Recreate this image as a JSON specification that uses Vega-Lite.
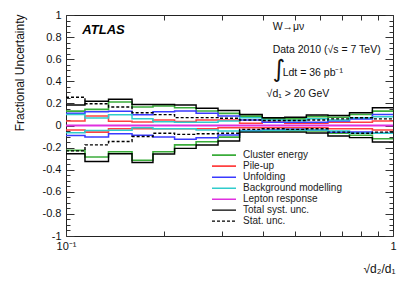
{
"$schema": "https://vega.github.io/schema/vega-lite/v6.json",
"width": 327, "height": 221,
"autosize": "none",
"padding": {"left": 66, "top": 15, "right": 22, "bottom": 45},
"config": {"view": {"stroke": "#222", "strokeWidth": 1}, "font": "Liberation Sans",
  "axis": {"domain": false, "grid": false, "tickColor": "#333", "labelColor": "#111", "labelFont": "Liberation Sans", "labelFontSize": 11, "titleFont": "Liberation Sans", "titleFontWeight": "normal", "titleColor": "#111"}},
"layer": [
{
"data": {"values": [
{"s":"Cluster energy","x":0.1,"u":0.13,"d":-0.225},{"s":"Cluster energy","x":0.1143,"u":0.146,"d":-0.285},{"s":"Cluster energy","x":0.1349,"u":0.213,"d":-0.237},{"s":"Cluster energy","x":0.1592,"u":0.167,"d":-0.315},{"s":"Cluster energy","x":0.1845,"u":0.176,"d":-0.237},{"s":"Cluster energy","x":0.2148,"u":0.161,"d":-0.175},{"s":"Cluster energy","x":0.25,"u":0.131,"d":-0.147},{"s":"Cluster energy","x":0.2917,"u":0.11,"d":-0.105},{"s":"Cluster energy","x":0.3396,"u":0.085,"d":-0.05},{"s":"Cluster energy","x":0.3981,"u":0.06,"d":-0.05},{"s":"Cluster energy","x":0.4667,"u":0.06,"d":-0.05},{"s":"Cluster energy","x":0.5433,"u":0.08,"d":-0.05},{"s":"Cluster energy","x":0.6324,"u":0.075,"d":-0.07},{"s":"Cluster energy","x":0.7362,"u":0.1,"d":-0.088},{"s":"Cluster energy","x":0.865,"u":0.13,"d":-0.12},{"s":"Cluster energy","x":1.0,"u":0.13,"d":-0.12},
{"s":"Pile-up","x":0.1,"u":0.04,"d":-0.04},{"s":"Pile-up","x":0.1143,"u":0.086,"d":-0.06},{"s":"Pile-up","x":0.1349,"u":0.038,"d":-0.029},{"s":"Pile-up","x":0.1592,"u":0.032,"d":-0.03},{"s":"Pile-up","x":0.1845,"u":0.05,"d":-0.03},{"s":"Pile-up","x":0.2148,"u":0.035,"d":-0.03},{"s":"Pile-up","x":0.25,"u":0.05,"d":-0.03},{"s":"Pile-up","x":0.2917,"u":0.05,"d":-0.02},{"s":"Pile-up","x":0.3396,"u":0.02,"d":-0.02},{"s":"Pile-up","x":0.3981,"u":0.03,"d":-0.02},{"s":"Pile-up","x":0.4667,"u":0.02,"d":-0.02},{"s":"Pile-up","x":0.5433,"u":0.02,"d":-0.02},{"s":"Pile-up","x":0.6324,"u":0.03,"d":-0.03},{"s":"Pile-up","x":0.7362,"u":0.03,"d":-0.03},{"s":"Pile-up","x":0.865,"u":0.04,"d":-0.04},{"s":"Pile-up","x":1.0,"u":0.04,"d":-0.04},
{"s":"Unfolding","x":0.1,"u":0.11,"d":-0.09},{"s":"Unfolding","x":0.1143,"u":0.125,"d":-0.104},{"s":"Unfolding","x":0.1349,"u":0.128,"d":-0.074},{"s":"Unfolding","x":0.1592,"u":0.098,"d":-0.089},{"s":"Unfolding","x":0.1845,"u":0.125,"d":-0.104},{"s":"Unfolding","x":0.2148,"u":0.131,"d":-0.125},{"s":"Unfolding","x":0.25,"u":0.11,"d":-0.11},{"s":"Unfolding","x":0.2917,"u":0.085,"d":-0.085},{"s":"Unfolding","x":0.3396,"u":0.05,"d":-0.045},{"s":"Unfolding","x":0.3981,"u":0.03,"d":-0.04},{"s":"Unfolding","x":0.4667,"u":0.03,"d":-0.035},{"s":"Unfolding","x":0.5433,"u":0.03,"d":-0.04},{"s":"Unfolding","x":0.6324,"u":0.04,"d":-0.06},{"s":"Unfolding","x":0.7362,"u":0.06,"d":-0.06},{"s":"Unfolding","x":0.865,"u":0.1,"d":-0.07},{"s":"Unfolding","x":1.0,"u":0.1,"d":-0.07},
{"s":"Background modelling","x":0.1,"u":0.1,"d":-0.065},{"s":"Background modelling","x":0.1143,"u":0.068,"d":-0.045},{"s":"Background modelling","x":0.1349,"u":0.098,"d":-0.044},{"s":"Background modelling","x":0.1592,"u":0.06,"d":-0.02},{"s":"Background modelling","x":0.1845,"u":0.035,"d":-0.03},{"s":"Background modelling","x":0.2148,"u":0.03,"d":-0.03},{"s":"Background modelling","x":0.25,"u":0.03,"d":-0.04},{"s":"Background modelling","x":0.2917,"u":0.04,"d":-0.05},{"s":"Background modelling","x":0.3396,"u":0.07,"d":-0.05},{"s":"Background modelling","x":0.3981,"u":0.05,"d":-0.045},{"s":"Background modelling","x":0.4667,"u":0.045,"d":-0.04},{"s":"Background modelling","x":0.5433,"u":0.06,"d":-0.04},{"s":"Background modelling","x":0.6324,"u":0.05,"d":-0.05},{"s":"Background modelling","x":0.7362,"u":0.07,"d":-0.07},{"s":"Background modelling","x":0.865,"u":0.08,"d":-0.07},{"s":"Background modelling","x":1.0,"u":0.08,"d":-0.07},
{"s":"Lepton response","x":0.1,"u":0.003,"d":-0.003},{"s":"Lepton response","x":0.1143,"u":0.003,"d":-0.003},{"s":"Lepton response","x":0.1349,"u":0.003,"d":-0.003},{"s":"Lepton response","x":0.1592,"u":0.003,"d":-0.003},{"s":"Lepton response","x":0.1845,"u":0.003,"d":-0.003},{"s":"Lepton response","x":0.2148,"u":0.003,"d":-0.003},{"s":"Lepton response","x":0.25,"u":0.003,"d":-0.003},{"s":"Lepton response","x":0.2917,"u":0.003,"d":-0.003},{"s":"Lepton response","x":0.3396,"u":0.003,"d":-0.003},{"s":"Lepton response","x":0.3981,"u":0.003,"d":-0.003},{"s":"Lepton response","x":0.4667,"u":0.003,"d":-0.003},{"s":"Lepton response","x":0.5433,"u":0.003,"d":-0.003},{"s":"Lepton response","x":0.6324,"u":0.003,"d":-0.003},{"s":"Lepton response","x":0.7362,"u":0.003,"d":-0.003},{"s":"Lepton response","x":0.865,"u":0.003,"d":-0.003},{"s":"Lepton response","x":1.0,"u":0.003,"d":-0.003},
{"s":"Total syst. unc.","x":0.1,"u":0.185,"d":-0.255},{"s":"Total syst. unc.","x":0.1143,"u":0.22,"d":-0.325},{"s":"Total syst. unc.","x":0.1349,"u":0.237,"d":-0.255},{"s":"Total syst. unc.","x":0.1592,"u":0.19,"d":-0.335},{"s":"Total syst. unc.","x":0.1845,"u":0.19,"d":-0.258},{"s":"Total syst. unc.","x":0.2148,"u":0.186,"d":-0.207},{"s":"Total syst. unc.","x":0.25,"u":0.156,"d":-0.176},{"s":"Total syst. unc.","x":0.2917,"u":0.135,"d":-0.14},{"s":"Total syst. unc.","x":0.3396,"u":0.1,"d":-0.06},{"s":"Total syst. unc.","x":0.3981,"u":0.07,"d":-0.06},{"s":"Total syst. unc.","x":0.4667,"u":0.075,"d":-0.06},{"s":"Total syst. unc.","x":0.5433,"u":0.095,"d":-0.068},{"s":"Total syst. unc.","x":0.6324,"u":0.09,"d":-0.095},{"s":"Total syst. unc.","x":0.7362,"u":0.116,"d":-0.11},{"s":"Total syst. unc.","x":0.865,"u":0.16,"d":-0.15},{"s":"Total syst. unc.","x":1.0,"u":0.16,"d":-0.15},
{"s":"Stat. unc.","x":0.1,"u":0.255,"d":-0.23},{"s":"Stat. unc.","x":0.1143,"u":0.197,"d":-0.175},{"s":"Stat. unc.","x":0.1349,"u":0.167,"d":-0.145},{"s":"Stat. unc.","x":0.1592,"u":0.116,"d":-0.1},{"s":"Stat. unc.","x":0.1845,"u":0.098,"d":-0.07},{"s":"Stat. unc.","x":0.2148,"u":0.071,"d":-0.08},{"s":"Stat. unc.","x":0.25,"u":0.071,"d":-0.075},{"s":"Stat. unc.","x":0.2917,"u":0.065,"d":-0.07},{"s":"Stat. unc.","x":0.3396,"u":0.05,"d":-0.035},{"s":"Stat. unc.","x":0.3981,"u":0.045,"d":-0.03},{"s":"Stat. unc.","x":0.4667,"u":0.045,"d":-0.035},{"s":"Stat. unc.","x":0.5433,"u":0.05,"d":-0.03},{"s":"Stat. unc.","x":0.6324,"u":0.06,"d":-0.06},{"s":"Stat. unc.","x":0.7362,"u":0.07,"d":-0.07},{"s":"Stat. unc.","x":0.865,"u":0.06,"d":-0.06},{"s":"Stat. unc.","x":1.0,"u":0.06,"d":-0.06}
]},
"transform": [{"fold": ["u", "d"], "as": ["sign", "value"]}],
"mark": {"type": "line", "interpolate": "step-after", "clip": true},
"encoding": {
  "x": {"field": "x", "type": "quantitative", "scale": {"type": "log", "domain": [0.1, 1]},
    "axis": {"orient": "bottom", "values": [0.1,0.2,0.3,0.4,0.5,0.6,0.7,0.8,0.9,1], "labelExpr": "datum.value == 0.1 ? '10⁻¹' : (datum.value == 1 ? '1' : '')", "tickSize": -5, "labelPadding": 9, "labelFontSize": 11, "labelFlush": false,
      "title": "√d₂/d₁", "titleFontSize": 12, "titleAlign": "right", "titleAnchor": "end", "titleX": 329, "titleY": 32, "titleBaseline": "middle"}},
  "y": {"field": "value", "type": "quantitative", "scale": {"domain": [-1, 1], "nice": false},
    "axis": {"orient": "left", "values": [-1,-0.95,-0.9,-0.85,-0.8,-0.75,-0.7,-0.65,-0.6,-0.55,-0.5,-0.45,-0.4,-0.35,-0.3,-0.25,-0.2,-0.15,-0.1,-0.05,0,0.05,0.1,0.15,0.2,0.25,0.3,0.35,0.4,0.45,0.5,0.55,0.6,0.65,0.7,0.75,0.8,0.85,0.9,0.95,1],
      "labelExpr": "abs(datum.value*5 - round(datum.value*5)) < 0.001 ? '' + datum.value : ''",
      "tickSize": {"condition": {"test": "abs(datum.value*5 - round(datum.value*5)) < 0.001", "value": -8}, "value": -4},
      "labelPadding": 13, "labelFlush": false,
      "title": "Fractional Uncertainty", "titleFontSize": 12, "titleAngle": -90, "titleAlign": "right", "titleAnchor": "end", "titleX": -47, "titleY": -1, "titleBaseline": "middle"}},
  "color": {"field": "s", "type": "nominal",
    "scale": {"domain": ["Cluster energy","Pile-up","Unfolding","Background modelling","Lepton response","Total syst. unc.","Stat. unc."],
      "range": ["#3aac3a","#ff4040","#3a3aff","#30cccc","#e030e0","#000000","#000000"]},
    "legend": {"title": null, "orient": "none", "legendX": 145, "legendY": 135, "symbolType": "stroke", "symbolSize": 576, "symbolStrokeWidth": 2, "clipHeight": 10.3, "labelFontSize": 10, "labelFont": "Liberation Sans", "labelColor": "#222", "rowPadding": 0, "labelOffset": 6, "padding": 0, "symbolOffset": 0}},
  "strokeDash": {"field": "s", "type": "nominal",
    "scale": {"domain": ["Cluster energy","Pile-up","Unfolding","Background modelling","Lepton response","Total syst. unc.","Stat. unc."],
      "range": [[1,0],[1,0],[1,0],[1,0],[1,0],[1,0],[3,2]]}},
  "strokeWidth": {"field": "s", "type": "nominal",
    "scale": {"domain": ["Cluster energy","Pile-up","Unfolding","Background modelling","Lepton response","Total syst. unc.","Stat. unc."],
      "range": [1.6,1.4,1.4,1.4,1.4,2.4,2]}},
  "detail": {"field": "sign", "type": "nominal"}
}
},
{
"data": {"values": [{"x": 0.1122, "y": 0.864, "t": "ATLAS"}]},
"mark": {"type": "text", "align": "left", "baseline": "middle", "fontSize": 13, "fontWeight": "bold", "fontStyle": "italic", "font": "Liberation Sans", "color": "#000"},
"encoding": {
  "x": {"field": "x", "type": "quantitative", "scale": {"type": "log", "domain": [0.1, 1]},
    "axis": {"orient": "top", "values": [0.1,0.2,0.3,0.4,0.5,0.6,0.7,0.8,0.9,1], "labels": false, "tickSize": -5, "title": null}},
  "y": {"field": "y", "type": "quantitative", "scale": {"domain": [-1, 1], "nice": false},
    "axis": {"orient": "right", "values": [-1,-0.95,-0.9,-0.85,-0.8,-0.75,-0.7,-0.65,-0.6,-0.55,-0.5,-0.45,-0.4,-0.35,-0.3,-0.25,-0.2,-0.15,-0.1,-0.05,0,0.05,0.1,0.15,0.2,0.25,0.3,0.35,0.4,0.45,0.5,0.55,0.6,0.65,0.7,0.75,0.8,0.85,0.9,0.95,1], "labels": false,
      "tickSize": {"condition": {"test": "abs(datum.value*5 - round(datum.value*5)) < 0.001", "value": -8}, "value": -4}, "title": null}},
  "text": {"field": "t"}
}
},
{
"data": {"values": [
  {"x": 0.4285, "y": 0.891, "t": "W→μν"},
  {"x": 0.4285, "y": 0.683, "t": "Data 2010 (√s = 7 TeV)"},
  {"x": 0.4597, "y": 0.475, "t": "Ldt = 36 pb⁻¹"},
  {"x": 0.4107, "y": 0.285, "t": "√d₁ > 20 GeV"}
]},
"mark": {"type": "text", "align": "left", "baseline": "middle", "fontSize": 10.5, "font": "Liberation Sans", "color": "#111"},
"encoding": {
  "x": {"field": "x", "type": "quantitative", "scale": {"type": "log", "domain": [0.1, 1]}, "axis": null},
  "y": {"field": "y", "type": "quantitative", "scale": {"domain": [-1, 1], "nice": false}, "axis": null},
  "text": {"field": "t"}
}
},
{
"data": {"values": [{"x": 0.4285, "y": 0.5, "t": "∫"}]},
"mark": {"type": "text", "align": "left", "baseline": "middle", "fontSize": 24, "font": "DejaVu Sans", "color": "#111"},
"encoding": {
  "x": {"field": "x", "type": "quantitative", "scale": {"type": "log", "domain": [0.1, 1]}, "axis": null},
  "y": {"field": "y", "type": "quantitative", "scale": {"domain": [-1, 1], "nice": false}, "axis": null},
  "text": {"field": "t"}
}
}
],
"resolve": {"axis": {"x": "independent", "y": "independent"}}
}
